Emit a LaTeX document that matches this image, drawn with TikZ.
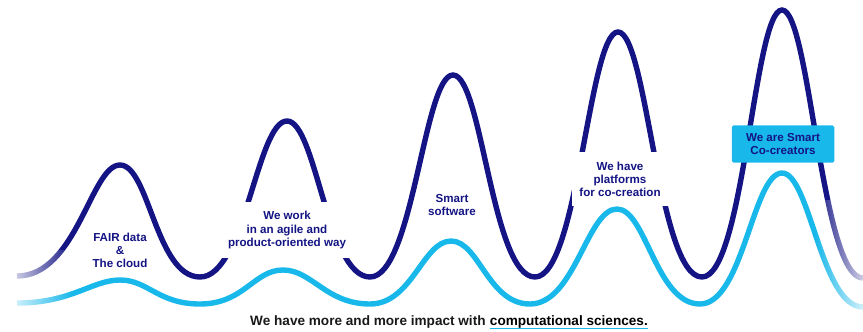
\documentclass[tikz,border=0pt]{standalone}
\usepackage{fontspec}
\setmainfont{Liberation Sans}
\usetikzlibrary{fadings}
\definecolor{wavenavy}{RGB}{20,20,132}
\definecolor{wavecyan}{RGB}{24,184,234}
\tikzfading[name=fade right,left color=transparent!0,right color=transparent!100]
\tikzfading[name=fade left,left color=transparent!100,right color=transparent!0]

\begin{document}
\begin{tikzpicture}[x=0.03cm,y=-0.03cm,
  wave/.style={line width=4.6pt,line cap=butt},
  lbl/.style={wavenavy,font=\bfseries\fontsize{9.9}{11.2}\selectfont,align=center,inner sep=0pt},
  gaplbl/.style={lbl,fill=white,inner xsep=6pt,inner ysep=8.5pt},
  cocrbox/.style={lbl,fill=wavecyan,rounded corners=1.5pt,minimum width=87.5pt,minimum height=32pt},
  claim/.style={anchor=base west,inner sep=0pt,font=\bfseries\fontsize{11.6}{14}\selectfont}]
\useasboundingbox (0,0) rectangle (863,331);
% upper wave, growing peaks
\draw[wave,wavenavy] (17,276) .. controls +(60,0) and +(-29,0) .. (120,165)
  .. controls +(29,0) and +(-44,0) .. (200,277)
  .. controls +(45,0) and +(-30,0) .. (287,121)
  .. controls +(29,0) and +(-43,0) .. (370,277)
  .. controls +(43,0) and +(-29,0) .. (453,75)
  .. controls +(29,0) and +(-43,0) .. (535,277)
  .. controls +(43,0) and +(-29,0) .. (618,32)
  .. controls +(29,0) and +(-44,0) .. (702,277)
  .. controls +(42,0) and +(-28,0) .. (782,10)
  .. controls +(28,0) and +(-42,0) .. (863,278);
\node[lbl] (fair) at (120,250) {FAIR data\\\&\\The cloud};
\node[gaplbl] (work) at (287,230) {We work\\in an agile and\\product-oriented way};
\node[lbl] (soft) at (452,205) {Smart\\software};
\node[gaplbl] (plat) at (620,179) {We have\\platforms\\for co-creation};
% lower wave
\draw[wave,wavecyan] (17,303) .. controls +(55,0) and +(-28,0) .. (120,280)
  .. controls +(28,0) and +(-42,0) .. (200,304)
  .. controls +(44,0) and +(-29,0) .. (283,270)
  .. controls +(29,0) and +(-44,0) .. (370,304)
  .. controls +(42,0) and +(-28,0) .. (451,241)
  .. controls +(28,0) and +(-42,0) .. (530,304)
  .. controls +(45,0) and +(-30,0) .. (617,209)
  .. controls +(29,0) and +(-44,0) .. (700,304)
  .. controls +(43,0) and +(-29,0) .. (782,173)
  .. controls +(28,0) and +(-42,0) .. (863,307);
% soft ends
\fill[white,path fading=fade right] (0,250) rectangle (72,320);
\fill[white,path fading=fade left,fill opacity=.8] (815,200) rectangle (863,320);
\node[cocrbox] (cocr) at (783,144) {We are Smart\\Co-creators};
% bottom line
\node[claim,text=black!90] (impact) at (250,325) {We have more and more impact with};
\node[claim,xshift=3.3pt] (comp) at (impact.base east) {computational sciences.};
\draw[wavecyan,line width=1.6pt] ([yshift=-3pt]comp.base west) -- ([yshift=-3pt]comp.base east);
\end{tikzpicture}
\end{document}
